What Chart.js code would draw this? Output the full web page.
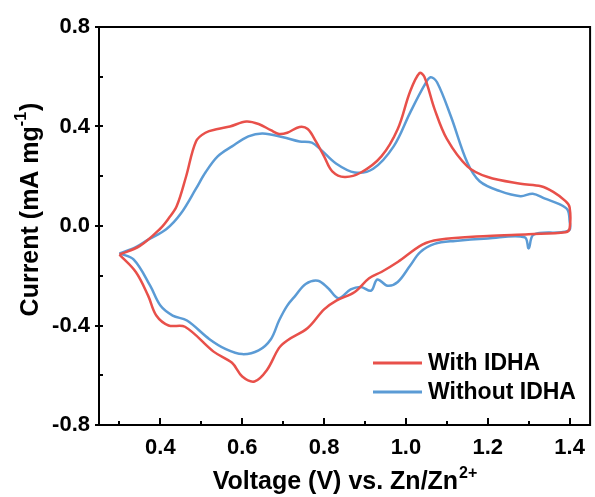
<!DOCTYPE html>
<html><head><meta charset="utf-8">
<script src="https://cdn.jsdelivr.net/npm/chart.js@4/dist/chart.umd.min.js"></script>
<style>html,body{margin:0;padding:0;background:#fff}canvas{display:block}</style>
</head><body>
<canvas id="c" width="595" height="497"></canvas>
<script>
// ---- data ----
const xTicks = [0.4, 0.6, 0.8, 1.0, 1.2, 1.4];
const xMinorTicks = [0.3, 0.5, 0.7, 0.9, 1.1, 1.3];
const yTicks = [-0.8, -0.4, 0.0, 0.4, 0.8];
const yMinorTicks = [-0.6, -0.2, 0.2, 0.6];

const seriesNames = ["With IDHA", "Without IDHA"];

const withV = [0.30,0.35,0.40,0.42,0.44,0.463,0.487,0.51,0.54,0.57,0.61,0.64,0.67,0.69,0.71,0.74,0.76,0.78,0.80,0.82,0.85,0.89,0.94,0.98,1.01,1.033,1.045,1.07,1.10,1.15,1.20,1.28,1.33,1.36,1.39,1.40,
  1.40,1.39,1.30,1.20,1.08,1.04,0.98,0.94,0.91,0.875,0.83,0.80,0.76,0.71,0.69,0.66,0.63,0.60,0.575,0.53,0.46,0.42,0.39,0.37,0.34,0.30];
const withI = [-0.115,-0.08,-0.01,0.03,0.08,0.20,0.34,0.375,0.39,0.40,0.42,0.41,0.385,0.37,0.375,0.398,0.39,0.34,0.28,0.22,0.197,0.215,0.28,0.39,0.54,0.615,0.60,0.47,0.35,0.24,0.197,0.17,0.16,0.137,0.10,0.075,
  -0.01,-0.025,-0.033,-0.04,-0.055,-0.075,-0.145,-0.185,-0.21,-0.265,-0.30,-0.335,-0.41,-0.46,-0.49,-0.58,-0.625,-0.605,-0.55,-0.505,-0.405,-0.40,-0.36,-0.28,-0.185,-0.115];

const withoutV = [0.30,0.34,0.37,0.415,0.45,0.487,0.51,0.54,0.575,0.615,0.65,0.70,0.74,0.77,0.79,0.83,0.875,0.92,0.97,1.01,1.045,1.06,1.076,1.11,1.15,1.18,1.23,1.28,1.31,1.34,1.375,1.395,1.40,
  1.40,1.38,1.312,1.30,1.29,1.20,1.12,1.07,1.035,1.01,0.98,0.955,0.93,0.915,0.89,0.865,0.835,0.81,0.785,0.755,0.73,0.71,0.69,0.67,0.64,0.60,0.56,0.52,0.465,0.43,0.40,0.375,0.335,0.30];
const withoutI = [-0.11,-0.085,-0.055,-0.012,0.05,0.15,0.215,0.28,0.32,0.36,0.372,0.357,0.34,0.335,0.31,0.25,0.215,0.23,0.32,0.455,0.565,0.598,0.578,0.44,0.255,0.18,0.14,0.12,0.13,0.11,0.088,0.065,0.02,
  -0.015,-0.025,-0.035,-0.09,-0.045,-0.05,-0.06,-0.072,-0.105,-0.16,-0.225,-0.24,-0.215,-0.26,-0.245,-0.255,-0.29,-0.25,-0.22,-0.233,-0.28,-0.32,-0.38,-0.455,-0.50,-0.515,-0.495,-0.455,-0.38,-0.36,-0.32,-0.24,-0.135,-0.11];

const colors = ["#e8504a", "#5b9bd5"];
const FONT = "'Liberation Sans', Arial, Helvetica, sans-serif";

function pts(xs, ys){ return xs.map((x,i)=>({x:x, y:ys[i]})); }

const decor = {
  id: 'decor',
  afterDraw(chart){
    const ctx = chart.ctx, a = chart.chartArea;
    const xs = chart.scales.x, ys = chart.scales.y;
    ctx.save();
    ctx.strokeStyle = '#000';
    ctx.lineWidth = 2;
    ctx.strokeRect(a.left, a.top, a.right - a.left, a.bottom - a.top);
    ctx.lineWidth = 2;
    ctx.beginPath();
    yTicks.forEach(v=>{ const p = Math.round(ys.getPixelForValue(v)); ctx.moveTo(a.left-4,p); ctx.lineTo(a.left+4,p); });
    yMinorTicks.forEach(v=>{ const p = Math.round(ys.getPixelForValue(v)); ctx.moveTo(a.left,p); ctx.lineTo(a.left+4,p); });
    xTicks.forEach(v=>{ const p = Math.round(xs.getPixelForValue(v)); ctx.moveTo(p,a.bottom); ctx.lineTo(p,a.bottom-7); });
    xMinorTicks.forEach(v=>{ const p = Math.round(xs.getPixelForValue(v)); ctx.moveTo(p,a.bottom); ctx.lineTo(p,a.bottom-4); });
    ctx.stroke();

    // x title with superscript
    ctx.fillStyle = '#000';
    ctx.textBaseline = 'alphabetic';
    const main = 'Voltage (V) vs. Zn/Zn', sup = '2+';
    ctx.font = 'bold 25px ' + FONT;
    const w1 = ctx.measureText(main).width;
    ctx.font = 'bold 16px ' + FONT;
    const w2 = ctx.measureText(sup).width;
    const cx = (a.left + a.right)/2;
    let x0 = cx - (w1 + w2)/2;
    ctx.font = 'bold 25px ' + FONT;
    ctx.textAlign = 'left';
    ctx.fillText(main, x0, 489);
    ctx.font = 'bold 16px ' + FONT;
    ctx.fillText(sup, x0 + w1 + 1, 478);

    // y title rotated with superscript
    ctx.save();
    ctx.translate(38, 210);
    ctx.rotate(-Math.PI/2);
    const m1 = 'Current (mA mg', s1 = '-1', m2 = ')';
    ctx.font = 'bold 25px ' + FONT;
    const a1 = ctx.measureText(m1).width, a3 = ctx.measureText(m2).width;
    ctx.font = 'bold 16px ' + FONT;
    const a2 = ctx.measureText(s1).width;
    let t = -(a1 + a2 + a3)/2;
    ctx.font = 'bold 25px ' + FONT;
    ctx.fillText(m1, t, 0);
    ctx.font = 'bold 16px ' + FONT;
    ctx.fillText(s1, t + a1, -12);
    ctx.font = 'bold 25px ' + FONT;
    ctx.fillText(m2, t + a1 + a2 + 1, 0);
    ctx.restore();

    // legend
    const ly = [363, 392];
    chart.data.datasets.forEach((ds, i)=>{
      ctx.strokeStyle = ds.borderColor;
      ctx.lineWidth = 3;
      ctx.beginPath(); ctx.moveTo(373, ly[i]); ctx.lineTo(422, ly[i]); ctx.stroke();
      ctx.fillStyle = '#000';
      ctx.font = 'bold 23px ' + FONT;
      ctx.textBaseline = 'middle';
      ctx.textAlign = 'left';
      ctx.fillText(ds.label, 428, ly[i] + 1);
    });
    ctx.restore();
  }
};

new Chart(document.getElementById('c'), {
  type: 'scatter',
  data: {
    datasets: [
      { label: seriesNames[0], data: pts(withV, withI), showLine: true, borderColor: colors[0], backgroundColor: colors[0], borderWidth: 2.5, pointRadius: 0, tension: 0.35, fill: false },
      { label: seriesNames[1], data: pts(withoutV, withoutI), showLine: true, borderColor: colors[1], backgroundColor: colors[1], borderWidth: 2.5, pointRadius: 0, tension: 0.35, fill: false }
    ]
  },
  options: {
    responsive: false,
    devicePixelRatio: 1,
    animation: false,
    layout: { padding: { left: 0, top: 27, right: 2, bottom: 0 } },
    plugins: { legend: { display: false }, tooltip: { enabled: false } },
    scales: {
      x: {
        type: 'linear', min: 0.25, max: 1.45,
        grid: { display: false, drawTicks: false },
        border: { display: false },
        afterBuildTicks: s => { s.ticks = xTicks.map(v=>({value:v})); },
        afterFit: s => { s.height = 72; },
        ticks: { padding: 10, color: '#000', font: { family: FONT, size: 22, weight: 'bold' }, callback: v => v.toFixed(1), maxRotation: 0 }
      },
      y: {
        type: 'linear', min: -0.8, max: 0.8,
        grid: { display: false, drawTicks: false },
        border: { display: false },
        afterBuildTicks: s => { s.ticks = yTicks.map(v=>({value:v})); },
        afterFit: s => { s.width = 99; },
        ticks: { padding: 9, color: '#000', font: { family: FONT, size: 22, weight: 'bold' }, callback: v => v.toFixed(1) }
      }
    }
  },
  plugins: [decor]
});
</script>
</body></html>
